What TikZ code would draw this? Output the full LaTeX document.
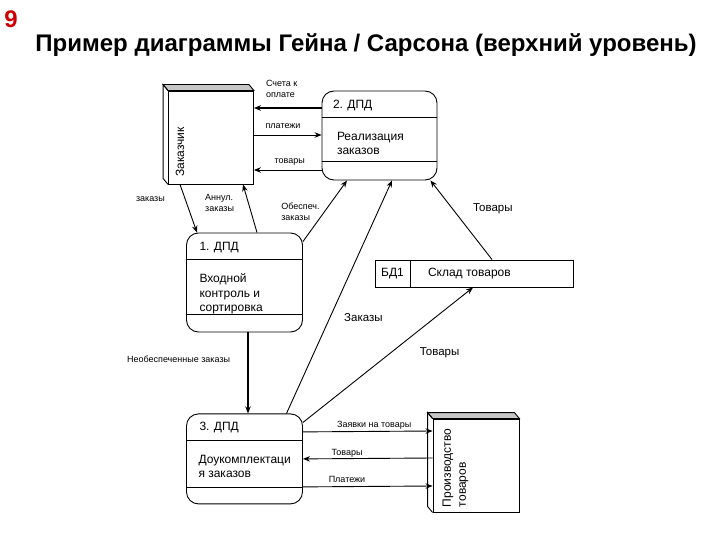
\documentclass[tikz,border=0pt]{standalone}
\usepackage{fontspec}
\setmainfont{Liberation Sans}
\usetikzlibrary{arrows.meta,positioning}

\begin{document}
\begin{tikzpicture}[%
 	    x=1pt, y=-1pt,
 	    >={Stealth[length=7pt,width=5.5pt]},
 	    line width=0.9pt,
 	    proc/.style={draw, rounded corners=12pt, minimum width=116pt, minimum height=90pt, inner sep=0pt},
 	    ent/.style={draw, fill=white, minimum width=85pt, minimum height=93pt, inner sep=0pt},
 	    store/.style={draw, minimum width=198pt, minimum height=27pt, inner sep=0pt},
 	    txt/.style={inner sep=0pt, font=\fontsize{12}{14.5}\selectfont, align=left},
 	    lbl/.style={inner sep=1pt, font=\fontsize{9}{11}\selectfont, align=left},
 	    big/.style={inner sep=1pt, font=\fontsize{11.5}{13}\selectfont},
 	    fat/.style={line width=1.8pt}
 	  ]

  \useasboundingbox (0,0) rectangle (720,540);

  \node[anchor=base west, inner sep=0pt, text=red!80!black, font=\bfseries\fontsize{24}{24}\selectfont] (NUM) at (4,28) {9};
  \node[anchor=base west, inner sep=0pt, font=\bfseries\fontsize{24}{28}\selectfont] (TITLE) at (35,52) {Пример диаграммы Гейна / Сарсона (верхний уровень)};

  % external entities
  \node[ent] (ZAK) at (211,137.5) {};
  \node[ent, minimum width=86pt] (PROIZV) at (476,465.5) {};
  \filldraw[fill=gray!45] (ZAK.north west) -- ++(-5,-6) -- ([shift={(-5,-6)}]ZAK.north east) -- (ZAK.north east) -- cycle;
  \draw (ZAK.north west) -- ++(-5,-6) -- ([shift={(-5,-6)}]ZAK.south west) -- (ZAK.south west);
  \filldraw[fill=gray!45] (PROIZV.north west) -- ++(-5,-6) -- ([shift={(-5,-6)}]PROIZV.north east) -- (PROIZV.north east) -- cycle;
  \draw (PROIZV.north west) -- ++(-5,-6) -- ([shift={(-5,-6)}]PROIZV.south west) -- (PROIZV.south west);
  \node[txt, rotate=90] (ZAKT) at ([shift={(-31,14.5)}]ZAK.center) {Заказчик};
  \node[txt, rotate=90, anchor=north west, font=\fontsize{12}{15}\selectfont] (PROIZVT) at ([shift={(9.5,-5)}]PROIZV.south west) {Производство\\товаров};

  % processes
  \node[proc, minimum height=99pt] (DPD1) at (244.5,282.5) {};
  \node[proc, minimum width=115pt, minimum height=89pt] (DPD2) at (379.5,135.5) {};
  \node[proc] (DPD3) [below=81pt of DPD1] {};

  \draw ([shift={(0,27)}]DPD1.north west) -- ([shift={(0,27)}]DPD1.north east);
  \draw ([shift={(0,-18)}]DPD1.south west) -- ([shift={(0,-18)}]DPD1.south east);
  \draw ([shift={(0,27)}]DPD2.north west) -- ([shift={(0,27)}]DPD2.north east);
  \draw ([shift={(0,-19)}]DPD2.south west) -- ([shift={(0,-19)}]DPD2.south east);
  \draw ([shift={(0,27)}]DPD3.north west) -- ([shift={(0,27)}]DPD3.north east);
  \draw ([shift={(0,-17)}]DPD3.south west) -- ([shift={(0,-17)}]DPD3.south east);

  \node[txt, anchor=base west] (DPD1H) at ([shift={(13,17.5)}]DPD1.north west) {1. ДПД};
  \node[txt, anchor=north west] (DPD1T) at ([shift={(13,41)}]DPD1.north west) {Входной\\контроль и\\сортировка};
  \node[txt, anchor=base west] (DPD2H) at ([shift={(11,17.5)}]DPD2.north west) {2. ДПД};
  \node[txt, anchor=north west] (DPD2T) at ([shift={(15,41)}]DPD2.north west) {Реализация\\заказов};
  \node[txt, anchor=base west] (DPD3H) at ([shift={(13,17.5)}]DPD3.north west) {3. ДПД};
  \node[txt, anchor=north west] (DPD3T) at ([shift={(12,41)}]DPD3.north west) {Доукомплектаци\\я заказов};

  % data store
  \node[store] (BD1) at (474,273.5) {};
  \draw ([shift={(36,0)}]BD1.north west) -- ([shift={(36,0)}]BD1.south west);
  \node[txt] (BD1N) at ([shift={(18,0)}]BD1.west) {БД1};
  \node[txt, anchor=west] (SKLAD) at ([shift={(53,0)}]BD1.west) {Склад товаров};

  \path[->]
      ([shift={(0,-27.5)}]DPD2.west)
          edge[fat] node[lbl, pos=0.59, above=9pt] {Счета к\\оплате} ([shift={(0,-29.5)}]ZAK.east)
      ([shift={(0,-2.5)}]ZAK.east)
          edge node[lbl, pos=0.43, above=5pt] {платежи} ([shift={(0,-0.5)}]DPD2.west)
      ([shift={(0,34.5)}]DPD2.west)
          edge node[lbl, pos=0.47, above=3pt] {товары} ([shift={(0,32.5)}]ZAK.east)
      ([shift={(-31,0)}]ZAK.south)
          edge node[lbl, pos=0.31, left=19pt] {заказы} ([shift={(-47.5,0)}]DPD1.north)
      ([shift={(12.5,0)}]DPD1.north)
          edge node[lbl, pos=0.61, left=13pt] {Аннул.\\заказы} ([shift={(32,0)}]ZAK.south)
      ([shift={(0,9)}]DPD1.north east)
          edge node[lbl, pos=0.48, left=3pt] {Обеспеч.\\заказы} ([shift={(-32.5,0)}]DPD2.south)
      ([shift={(42,0)}]DPD3.north)
          edge node[big, pos=0.41, right=13pt] {Заказы} ([shift={(12.5,0)}]DPD2.south)
      ([shift={(18,0)}]BD1.north)
          edge node[big, pos=0.64, right=19pt] {Товары} ([shift={(-7,0)}]DPD2.south east)
      ([shift={(0,9)}]DPD3.north east)
          edge node[big, pos=0.52, right=27pt] {Товары} ([shift={(-1,0)}]BD1.south)
      ([shift={(3.5,0)}]DPD1.south)
          edge[fat] node[lbl, pos=0.33, left=16pt] {Необеспеченные заказы} ([shift={(3.5,0)}]DPD3.north)
      ([shift={(0,-27)}]DPD3.east)
          edge node[lbl, pos=0.55, above=1pt] {Заявки на товары} ([shift={(0,-34.5)}]PROIZV.west)
      ([shift={(0,-7.5)}]PROIZV.west)
          edge node[lbl, pos=0.66, above=0pt] {Товары} (DPD3.east)
      ([shift={(0,28)}]DPD3.east)
          edge node[lbl, pos=0.34, above=3pt] {Платежи} ([shift={(0,20.5)}]PROIZV.west);

\end{tikzpicture}
\end{document}
